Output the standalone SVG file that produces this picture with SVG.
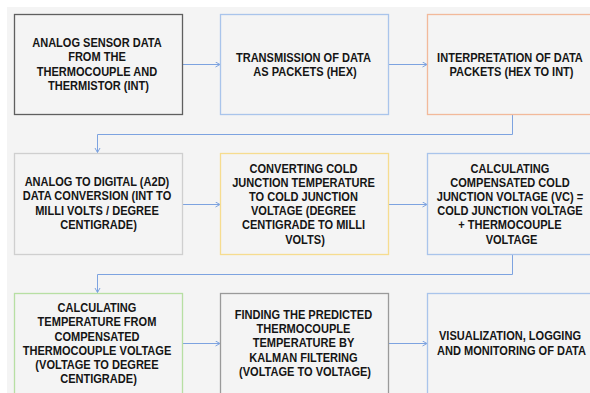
<svg xmlns="http://www.w3.org/2000/svg" width="590" height="393" viewBox="0 0 590 393">
  <defs>
    <marker id="arrow" markerUnits="userSpaceOnUse" markerWidth="8" markerHeight="8" refX="5" refY="3" orient="auto">
      <path d="M0.5,0.5 L5,3 L0.5,5.5" fill="none" stroke="#7da3e0" stroke-width="1"/>
    </marker>
  </defs>
  <style>
    .box { fill: #f4f4f4; stroke-width: 1.3; }
    .lbl { font-family: "Liberation Sans", Arial, sans-serif; font-weight: bold; font-size: 13px; fill: #151515; text-anchor: middle; }
    .conn { fill: none; stroke: #7da3e0; stroke-width: 1; }
  </style>

  <rect x="0" y="0" width="590" height="393" fill="#ffffff"/>
  <rect x="7" y="7" width="583" height="386" fill="#f4f4f4"/>

  <g id="connectors">
    <path class="conn" d="M183,64.5 H220" marker-end="url(#arrow)"/>
    <path class="conn" d="M389,64.5 H427" marker-end="url(#arrow)"/>
    <path class="conn" d="M512.5,114.5 V134.5 H97.5 V152.5" marker-end="url(#arrow)"/>
    <path class="conn" d="M183,204.5 H220" marker-end="url(#arrow)"/>
    <path class="conn" d="M389,204.5 H427" marker-end="url(#arrow)"/>
    <path class="conn" d="M512.5,254.5 V274.5 H97.5 V292.5" marker-end="url(#arrow)"/>
    <path class="conn" d="M183,343.5 H220" marker-end="url(#arrow)"/>
    <path class="conn" d="M389,343.5 H427" marker-end="url(#arrow)"/>
  </g>

  <g id="sensor-data">
    <rect class="box" x="14.5" y="14.5" width="168" height="100" stroke="#5f5f5f"/>
    <text class="lbl" transform="translate(98.5,0) scale(0.85,1)">
      <tspan x="0" y="47">ANALOG SENSOR DATA</tspan>
      <tspan x="0" y="61.5">FROM THE</tspan>
      <tspan x="0" y="76">THERMOCOUPLE AND</tspan>
      <tspan x="0" y="90.5">THERMISTOR (INT)</tspan>
    </text>
  </g>

  <g id="transmission">
    <rect class="box" x="220.5" y="14.5" width="168" height="100" stroke="#a9c4eb"/>
    <text class="lbl" transform="translate(305,0) scale(0.85,1)">
      <tspan x="0" y="62">TRANSMISSION OF DATA</tspan>
      <tspan x="0" y="76.3">AS PACKETS (HEX)</tspan>
    </text>
  </g>

  <g id="interpretation">
    <rect class="box" x="427.5" y="14.5" width="168" height="100" stroke="#f2b99a"/>
    <text class="lbl" transform="translate(511.5,0) scale(0.85,1)">
      <tspan x="0" y="62">INTERPRETATION OF DATA</tspan>
      <tspan x="0" y="76.3">PACKETS (HEX TO INT)</tspan>
    </text>
  </g>

  <g id="a2d-conversion">
    <rect class="box" x="14.5" y="153.5" width="168" height="101" stroke="#cfcfcf"/>
    <text class="lbl" transform="translate(98.5,0) scale(0.85,1)">
      <tspan x="0" y="186">ANALOG TO DIGITAL (A2D)</tspan>
      <tspan x="0" y="200.5">DATA CONVERSION (INT TO</tspan>
      <tspan x="0" y="215">MILLI VOLTS / DEGREE</tspan>
      <tspan x="0" y="229.3">CENTIGRADE)</tspan>
    </text>
  </g>

  <g id="cold-junction">
    <rect class="box" x="220.5" y="153.5" width="168" height="101" stroke="#f6dc8f"/>
    <text class="lbl" transform="translate(305,0) scale(0.85,1)">
      <tspan x="0" y="172.7">CONVERTING COLD</tspan>
      <tspan x="0" y="186.9">JUNCTION TEMPERATURE</tspan>
      <tspan x="0" y="201.1">TO COLD JUNCTION</tspan>
      <tspan x="0" y="215.3">VOLTAGE (DEGREE</tspan>
      <tspan x="0" y="229.5">CENTIGRADE TO MILLI</tspan>
      <tspan x="0" y="243.7">VOLTS)</tspan>
    </text>
  </g>

  <g id="compensated-voltage">
    <rect class="box" x="427.5" y="153.5" width="168" height="101" stroke="#a9c4eb"/>
    <text class="lbl" transform="translate(511.5,0) scale(0.85,1)">
      <tspan x="0" y="172.7">CALCULATING</tspan>
      <tspan x="0" y="186.9">COMPENSATED COLD</tspan>
      <tspan x="0" y="201.1">JUNCTION VOLTAGE (VC) =</tspan>
      <tspan x="0" y="215.3">COLD JUNCTION VOLTAGE</tspan>
      <tspan x="0" y="229.5">+ THERMOCOUPLE</tspan>
      <tspan x="0" y="243.7">VOLTAGE</tspan>
    </text>
  </g>

  <g id="temperature">
    <rect class="box" x="14.5" y="293.5" width="168" height="101" stroke="#b7dfa3"/>
    <text class="lbl" transform="translate(98.5,0) scale(0.85,1)">
      <tspan x="0" y="312.3">CALCULATING</tspan>
      <tspan x="0" y="326.5">TEMPERATURE FROM</tspan>
      <tspan x="0" y="340.7">COMPENSATED</tspan>
      <tspan x="0" y="354.9">THERMOCOUPLE VOLTAGE</tspan>
      <tspan x="0" y="369.1">(VOLTAGE TO DEGREE</tspan>
      <tspan x="0" y="383.3">CENTIGRADE)</tspan>
    </text>
  </g>

  <g id="kalman">
    <rect class="box" x="220.5" y="293.5" width="168" height="101" stroke="#9a9a9a"/>
    <text class="lbl" transform="translate(305,0) scale(0.85,1)">
      <tspan x="0" y="319">FINDING THE PREDICTED</tspan>
      <tspan x="0" y="333.2">THERMOCOUPLE</tspan>
      <tspan x="0" y="347.4">TEMPERATURE BY</tspan>
      <tspan x="0" y="361.6">KALMAN FILTERING</tspan>
      <tspan x="0" y="375.8">(VOLTAGE TO VOLTAGE)</tspan>
    </text>
  </g>

  <g id="visualization">
    <rect class="box" x="427.5" y="293.5" width="168" height="101" stroke="#a9c4eb"/>
    <text class="lbl" transform="translate(511.5,0) scale(0.85,1)">
      <tspan x="0" y="340.5">VISUALIZATION, LOGGING</tspan>
      <tspan x="0" y="354.7">AND MONITORING OF DATA</tspan>
    </text>
  </g>
</svg>
